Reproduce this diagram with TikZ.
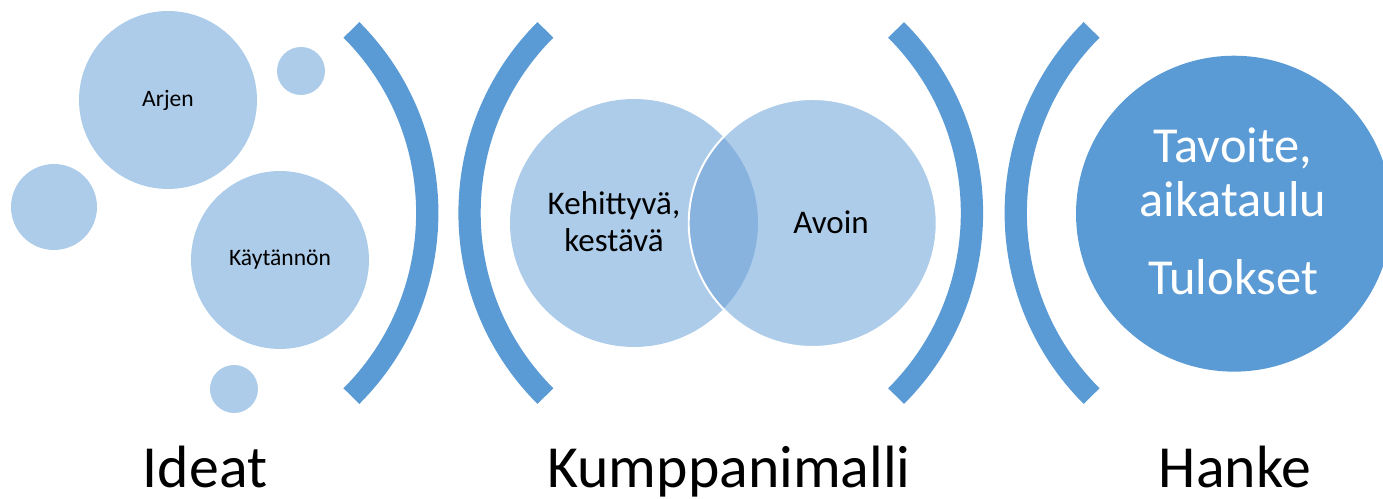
\documentclass[tikz,border=0pt]{standalone}
\usepackage{fontspec}
\setmainfont{Carlito}
\usepackage{xcolor}
\usetikzlibrary{positioning, calc}

\definecolor{accentblue}{HTML}{5B9BD5}
\definecolor{paleblue}{HTML}{ADCCEA}
\definecolor{lensblue}{HTML}{89B3DF}

\tikzset{
    bubble/.style={circle, fill=paleblue, inner sep=0pt, font=\fontsize{13.4}{16}\selectfont},
    vennbox/.style={circle, fill=paleblue, inner sep=0pt, minimum size=4.96cm},
    vennlabel/.style={align=center, font=\fontsize{18.8}{21.1}\selectfont},
    bracket/.style={accentblue, line width=0.446cm},
    stagelabel/.style={anchor=base, font=\fontsize{34}{40}\selectfont}
}

\begin{document}
\begin{tikzpicture}[x=0.02cm, y=0.02cm]
        \useasboundingbox (0,0) rectangle (1383,499);
        \clip (0,0) rectangle (1383,499);

        \node[bubble, minimum size=3.56cm] (arjen) at (168,399) {Arjen};
        \node[bubble, minimum size=0.96cm] (dotA) at (301,428) {};
        \node[bubble, minimum size=1.72cm] (dotB) at (54,292) {};
        \node[bubble, minimum size=3.56cm] (kaytannon) at (280,239) {Käytännön};
        \node[bubble, minimum size=0.96cm] (dotC) at (234,110) {};

        \draw[bracket] (168.3,286) ++(-45:5.18cm) arc[start angle=-45, end angle=45, radius=5.18cm];
        \draw[bracket] (728.5,286) ++(135:5.18cm) arc[start angle=135, end angle=225, radius=5.18cm];
        \draw[bracket] (713,286) ++(-45:5.18cm) arc[start angle=-45, end angle=45, radius=5.18cm];
        \draw[bracket] (1274.7,286) ++(135:5.18cm) arc[start angle=135, end angle=225, radius=5.18cm];

        \node[vennbox] (kehitys) at (634,276) {};
        \node[vennbox] (avoin) at (812.7,276) {};
        \begin{scope}
            \clip (kehitys.center) circle (2.48cm);
            \fill[lensblue] (avoin.center) circle (2.48cm);
        \end{scope}
        \draw[white, line width=1.1pt] (avoin.center) circle (2.48cm);
        \node[vennlabel] (kehitysText) at (614,277) {Kehittyvä,\\kestävä};
        \node[vennlabel] (avoinText) at (831,276.5) {Avoin};

        \node[circle, fill=accentblue, minimum size=6.32cm, inner sep=0pt] (hanke) at (1234,285.3) {};
        \node[align=center, white, font=\fontsize{28.7}{31}\selectfont] (hankeText) at (1233,288)
            {Tavoite,\\aikataulu\\[13pt]Tulokset};

        \node[stagelabel] (ideat) at (205,11.3) {Ideat};
        \node[stagelabel] (malli) at (729,11.3) {Kumppanimalli};
        \node[stagelabel] (hankeLabel) at (1235,11.3) {Hanke};
        %\draw[red] (0,0) rectangle (1383,499);
    \end{tikzpicture}
\end{document}
